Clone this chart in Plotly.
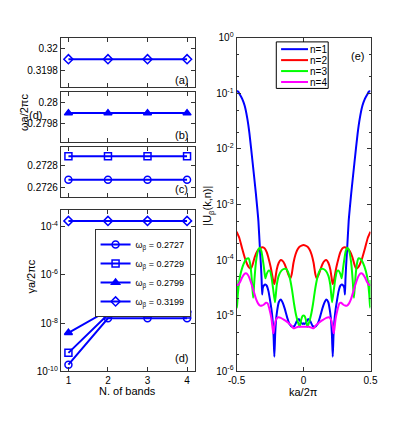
import numpy as np
import plotly.graph_objects as go

W, H = 415, 423
BLUE = "rgb(0,0,255)"

bands = [1, 2, 3, 4]
# panel (a)-(c): frequencies
w_3199 = [0.31990, 0.31990, 0.31990, 0.31990]
w_2799 = [0.27990, 0.27990, 0.27990, 0.27990]
w_2729 = [0.27289, 0.27289, 0.27289, 0.27289]
w_2727 = [0.27267, 0.27267, 0.27267, 0.27267]
# panel (d): gamma
g_2727 = [1.9e-10, 1.6e-8, 1.6e-8, 1.6e-8]
g_2729 = [5.9e-10, 2.3e-8, 2.3e-8, 2.3e-8]
g_2799 = [4.0e-9, 3.4e-8, 3.4e-8, 3.4e-8]
g_3199 = [1.74e-4, 1.74e-4, 1.74e-4, 1.74e-4]
legend_d = ["ω<sub>β</sub> = 0.2727", "ω<sub>β</sub> = 0.2729",
            "ω<sub>β</sub> = 0.2799", "ω<sub>β</sub> = 0.3199"]

# panel (e): log10 |U|
k1 = [-0.5, -0.488, -0.476, -0.458, -0.44, -0.42, -0.404, -0.38, -0.356, -0.345, -0.337,
      -0.326, -0.318, -0.313, -0.309, -0.304, -0.297, -0.285, -0.275, -0.262, -0.249, -0.24,
      -0.232, -0.224, -0.218, -0.212, -0.206, -0.198, -0.185, -0.17, -0.155, -0.141, -0.12,
      -0.105, -0.085, -0.069, -0.05, -0.035, -0.02, -0.008, 0,
      0.008, 0.02, 0.035, 0.05, 0.069, 0.085, 0.105, 0.12, 0.141, 0.155, 0.17, 0.185, 0.198,
      0.206, 0.212, 0.218, 0.224, 0.232, 0.24, 0.249, 0.262, 0.275, 0.285, 0.297, 0.304,
      0.309, 0.313, 0.318, 0.326, 0.337, 0.345, 0.356, 0.38, 0.404, 0.42, 0.44, 0.458, 0.476,
      0.488, 0.5]
u1 = [-0.96, -0.97, -1.02, -1.1, -1.22, -1.45, -1.72, -2.25, -2.8, -3.08, -3.3,
      -3.78, -4.1, -4.35, -4.62, -4.5, -4.46, -4.44, -4.46, -4.56, -4.74, -4.88,
      -5.05, -5.35, -5.74, -5.35, -5.1, -4.93, -4.76, -4.71, -4.77, -4.87, -5.05,
      -5.15, -5.2, -5.19, -5.1, -5.06, -5.12, -5.15, -5.14,
      -5.15, -5.12, -5.06, -5.1, -5.19, -5.2, -5.15, -5.05, -4.87, -4.77, -4.71, -4.76, -4.93,
      -5.1, -5.35, -5.74, -5.35, -5.05, -4.88, -4.74, -4.56, -4.46, -4.44, -4.46, -4.5,
      -4.62, -4.35, -4.1, -3.78, -3.3, -3.08, -2.8, -2.25, -1.72, -1.45, -1.22, -1.1, -1.02,
      -0.97, -0.96]

k2 = [-0.5, -0.48, -0.46, -0.44, -0.42, -0.405, -0.392, -0.38, -0.365, -0.345, -0.325,
      -0.305, -0.29, -0.275, -0.26, -0.245, -0.232, -0.224, -0.218, -0.212, -0.2, -0.185,
      -0.17, -0.155, -0.14, -0.125, -0.11, -0.098, -0.088, -0.075, -0.06, -0.045, -0.03,
      -0.015, 0,
      0.015, 0.03, 0.045, 0.06, 0.075, 0.088, 0.098, 0.11, 0.125, 0.14, 0.155, 0.17, 0.185,
      0.2, 0.212, 0.218, 0.224, 0.232, 0.245, 0.26, 0.275, 0.29, 0.305, 0.325, 0.345, 0.365,
      0.38, 0.392, 0.405, 0.42, 0.44, 0.46, 0.48, 0.5]
u2 = [-3.49, -3.6, -3.78, -3.95, -4.08, -4.14, -4.15, -4.08, -3.95, -3.84, -3.79,
      -3.77, -3.79, -3.86, -3.98, -4.13, -4.3, -4.4, -4.43, -4.36, -4.17, -4.05,
      -4.0, -4.02, -4.08, -4.18, -4.28, -4.33, -4.25, -4.05, -3.9, -3.81, -3.76,
      -3.74, -3.73,
      -3.74, -3.76, -3.81, -3.9, -4.05, -4.25, -4.33, -4.28, -4.18, -4.08, -4.02, -4.0, -4.05,
      -4.17, -4.36, -4.43, -4.4, -4.3, -4.13, -3.98, -3.86, -3.79, -3.77, -3.79, -3.84, -3.95,
      -4.08, -4.15, -4.14, -4.08, -3.95, -3.78, -3.6, -3.49]

k3 = [-0.5, -0.497, -0.49, -0.475, -0.455, -0.44, -0.425, -0.41, -0.4, -0.39, -0.382,
      -0.376, -0.368, -0.358, -0.345, -0.335, -0.325, -0.315, -0.305, -0.295, -0.285,
      -0.275, -0.262, -0.25, -0.24, -0.228, -0.213, -0.2, -0.185, -0.165, -0.145, -0.13,
      -0.115, -0.1, -0.085, -0.07, -0.055, -0.042, -0.029, -0.018, -0.008, 0,
      0.008, 0.018, 0.029, 0.042, 0.055, 0.07, 0.085, 0.1, 0.115, 0.13, 0.145, 0.165, 0.185,
      0.2, 0.213, 0.228, 0.24, 0.25, 0.262, 0.275, 0.285, 0.295, 0.305, 0.315, 0.325, 0.335,
      0.345, 0.358, 0.368, 0.376, 0.382, 0.39, 0.4, 0.41, 0.425, 0.44, 0.455, 0.475, 0.49,
      0.497, 0.5]
u3 = [-4.36, -4.86, -4.6, -4.3, -4.12, -4.03, -3.98, -3.97, -4.05, -4.25, -4.5,
      -4.68, -4.4, -4.1, -3.88, -3.8, -3.78, -3.84, -3.98, -4.15, -4.33,
      -4.25, -4.19, -4.2, -4.3, -4.5, -4.76, -4.45, -4.28, -4.19, -4.16, -4.16,
      -4.22, -4.35, -4.55, -4.8, -5.0, -5.12, -5.2, -5.08, -5.01, -5.0,
      -5.01, -5.08, -5.2, -5.12, -5.0, -4.8, -4.55, -4.35, -4.22, -4.16, -4.16, -4.19, -4.28,
      -4.45, -4.76, -4.5, -4.3, -4.2, -4.19, -4.25, -4.33, -4.15, -3.98, -3.84, -3.78, -3.8,
      -3.88, -4.1, -4.4, -4.68, -4.5, -4.25, -4.05, -3.97, -3.98, -4.03, -4.12, -4.3, -4.6,
      -4.86, -4.36]

k4 = [-0.5, -0.49, -0.475, -0.46, -0.445, -0.43, -0.415, -0.4, -0.385, -0.37, -0.355,
      -0.34, -0.325, -0.31, -0.295, -0.28, -0.268, -0.255, -0.24, -0.23, -0.225, -0.218,
      -0.205, -0.19, -0.17, -0.15, -0.13, -0.11, -0.09, -0.075, -0.06, -0.04, -0.02, 0,
      0.02, 0.04, 0.06, 0.075, 0.09, 0.11, 0.13, 0.15, 0.17, 0.19, 0.205, 0.218, 0.225,
      0.23, 0.24, 0.255, 0.268, 0.28, 0.295, 0.31, 0.325, 0.34, 0.355, 0.37, 0.385, 0.4,
      0.415, 0.43, 0.445, 0.46, 0.475, 0.49, 0.5]
u4 = [-4.45, -4.45, -4.4, -4.32, -4.26, -4.24, -4.27, -4.35, -4.46, -4.58, -4.7,
      -4.78, -4.82, -4.82, -4.8, -4.77, -4.78, -4.88, -5.05, -5.25, -5.32, -5.2,
      -5.07, -5.03, -5.04, -5.07, -5.1, -5.14, -5.18, -5.23, -5.22, -5.2, -5.2, -5.2,
      -5.2, -5.2, -5.22, -5.23, -5.18, -5.14, -5.1, -5.07, -5.04, -5.03, -5.07, -5.2, -5.32,
      -5.25, -5.05, -4.88, -4.78, -4.77, -4.8, -4.82, -4.82, -4.78, -4.7, -4.58, -4.46, -4.35,
      -4.27, -4.24, -4.26, -4.32, -4.4, -4.45, -4.45]
curve_names = ["n=1", "n=2", "n=3", "n=4"]
curve_cols = ["rgb(0,0,255)", "rgb(255,0,0)", "rgb(0,255,0)", "rgb(255,0,255)"]

FONT = "Arial, Liberation Sans, sans-serif"


def px_x(a, b):
    return [a / W, b / W]


def px_y(top, bot):
    return [1 - bot / H, 1 - top / H]


fig = go.Figure()


def add(x, y, sym, xa, ya, name=None, show=False):
    fig.add_trace(go.Scatter(
        x=x, y=y, mode="lines+markers", name=name, showlegend=show,
        line=dict(color=BLUE, width=2),
        marker=dict(symbol=sym, size=7, color=BLUE, line=dict(color=BLUE, width=1.5)),
        xaxis=xa, yaxis=ya))


add(bands, w_3199, "diamond-open", "x", "y")
add(bands, w_2799, "triangle-up", "x2", "y2")
add(bands, w_2729, "square-open", "x3", "y3")
add(bands, w_2727, "circle-open", "x3", "y3")
add(bands, g_2727, "circle-open", "x4", "y4", legend_d[0], True)
add(bands, g_2729, "square-open", "x4", "y4", legend_d[1], True)
add(bands, g_2799, "triangle-up", "x4", "y4", legend_d[2], True)
add(bands, g_3199, "diamond-open", "x4", "y4", legend_d[3], True)

for kk, uu, c, nm in zip([k1, k2, k3, k4], [u1, u2, u3, u4], curve_cols, curve_names):
    fig.add_trace(go.Scatter(
        x=kk, y=10 ** np.array(uu), mode="lines", name=nm, showlegend=False,
        line=dict(color=c, width=2, shape="spline", smoothing=0.6),
        xaxis="x5", yaxis="y5"))

axis_common = dict(showline=True, linecolor="#333", linewidth=1, mirror="ticks",
                   ticks="inside", ticklen=4, tickcolor="#333", showgrid=False,
                   zeroline=False, tickfont=dict(family=FONT, size=10, color="black"))

xd = px_x(54, 193)
lay = dict(
    width=W, height=H, autosize=False, margin=dict(l=0, r=0, t=0, b=0),
    paper_bgcolor="white", plot_bgcolor="white",
    font=dict(family=FONT, size=10, color="black"),
)
for i in (1, 2, 3):
    s = "" if i == 1 else str(i)
    lay[f"xaxis{s}"] = dict(domain=xd, range=[0.81, 4.19], tickvals=bands,
                            showticklabels=False, anchor=f"y{s}", **axis_common)
lay["yaxis"] = dict(domain=px_y(32, 83), range=[0.319639, 0.320096],
                    tickvals=[0.3198, 0.32], ticktext=["0.3198", "0.32"], anchor="x", **axis_common)
lay["yaxis2"] = dict(domain=px_y(88, 139), range=[0.279636, 0.280092],
                     tickvals=[0.2798, 0.28], ticktext=["0.2798", "0.28"], anchor="x2", **axis_common)
lay["yaxis3"] = dict(domain=px_y(144, 196), range=[0.272509, 0.272982],
                     tickvals=[0.2726, 0.2728], ticktext=["0.2726", "0.2728"], anchor="x3", **axis_common)
lay["xaxis4"] = dict(domain=xd, range=[0.81, 4.19], tickvals=bands, anchor="y4", **axis_common)
lay["yaxis4"] = dict(domain=px_y(209, 376), type="log", range=[-10, -3.29],
                     tickvals=[1e-10, 1e-8, 1e-6, 1e-4],
                     ticktext=["10<sup>-10</sup>", "10<sup>-8</sup>", "10<sup>-6</sup>", "10<sup>-4</sup>"],
                     anchor="x4", **axis_common)
lay["xaxis5"] = dict(domain=px_x(236.7, 376), range=[-0.5, 0.5], tickvals=[-0.5, 0, 0.5],
                     ticktext=["-0.5", "0", "0.5"], anchor="y5", **axis_common)
lay["yaxis5"] = dict(domain=px_y(31.7, 375.7), type="log", range=[-6, 0],
                     tickvals=[1e-6, 1e-5, 1e-4, 1e-3, 1e-2, 1e-1, 1],
                     ticktext=["10<sup>-6</sup>", "10<sup>-5</sup>", "10<sup>-4</sup>", "10<sup>-3</sup>",
                               "10<sup>-2</sup>", "10<sup>-1</sup>", "10<sup>0</sup>"],
                     minor=dict(ticks="inside", ticklen=2, tickcolor="#333"),
                     anchor="x5", **axis_common)
lay["legend"] = dict(x=89 / W, y=1 - 229 / H, xanchor="left", yanchor="top",
                     bordercolor="#333", borderwidth=1, bgcolor="white",
                     font=dict(family=FONT, size=9), tracegroupgap=0)
fig.update_layout(**lay)


def note(text, x, y, size=11, angle=0, xanchor="center"):
    fig.add_annotation(text=text, x=x / W, y=1 - y / H, xref="paper", yref="paper",
                       showarrow=False, textangle=angle, xanchor=xanchor, yanchor="middle",
                       font=dict(family=FONT, size=size, color="black"))


note("(a)", 179, 75)
note("(b)", 179, 132)
note("(c)", 179, 188)
note("(d)", 179, 362)
note("(d)", 28, 111)
note("(e)", 362, 51)
note("ωa/2πc", 15, 109, 11, -90)
note("γa/2πc", 23, 278, 11, -90)
note("N. of bands", 123, 396)
note("ka/2π", 306, 397)
note("|U<sub>β</sub>(k,n)|", 207, 205, 11, -90)

# legend box for panel (e)
fig.add_shape(type="rect", xref="paper", yref="paper",
              x0=278 / W, x1=332 / W, y0=1 - 84 / H, y1=1 - 36 / H,
              line=dict(color="black", width=1), fillcolor="white", layer="above")
for i, (nm, c) in enumerate(zip(curve_names, curve_cols)):
    yy = 43.5 + i * 11.3
    fig.add_shape(type="line", xref="paper", yref="paper",
                  x0=283 / W, x1=311 / W, y0=1 - yy / H, y1=1 - yy / H,
                  line=dict(color=c, width=2), layer="above")
    note(nm, 311, yy, 10, 0, "left")

fig.write_html("out.html", config={"displayModeBar": False},
               post_script="document.body.style.margin='0';document.body.style.overflow='hidden';")
